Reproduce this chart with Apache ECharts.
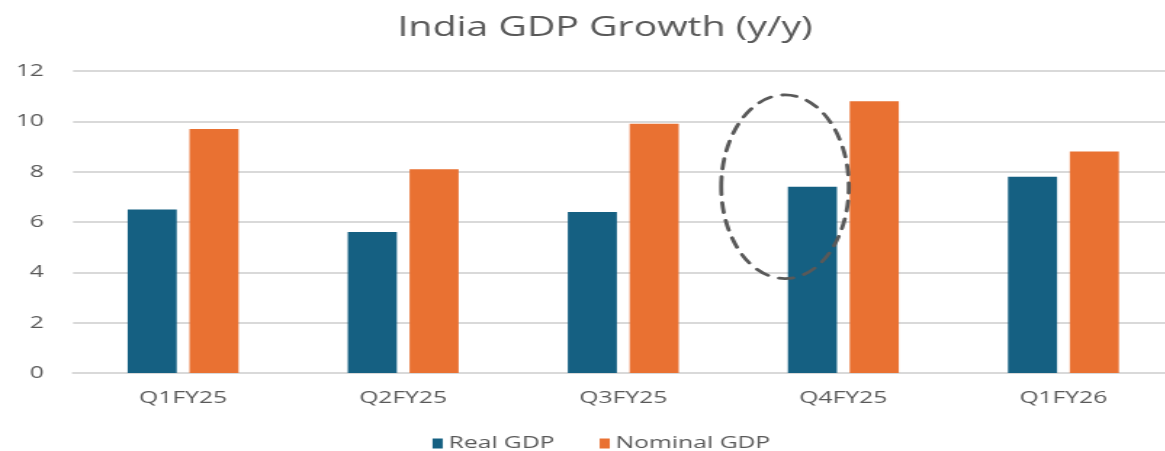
<!DOCTYPE html>
<html>
<head>
<meta charset="utf-8">
<script src="https://cdn.jsdelivr.net/npm/echarts@6/dist/echarts.min.js"></script>
<style>
html,body{margin:0;padding:0;background:#fff;overflow:hidden;}
#wrap{width:1165px;height:451px;overflow:hidden;position:relative;}
#c{height:451px;transform-origin:0 0;position:absolute;left:0;top:0;}
</style>
</head>
<body>
<div id="wrap"><div id="c"></div></div>
<script>
const categories = ['Q1FY25', 'Q2FY25', 'Q3FY25', 'Q4FY25', 'Q1FY26'];
const realGDP = [6.5, 5.6, 6.4, 7.4, 7.8];
const nominalGDP = [9.7, 8.1, 9.9, 10.8, 8.8];
const yTicks = { min: 0, max: 12, interval: 2 };
const highlightIndex = 3;

// the reference picture is horizontally stretched and cropped on the right;
// reproduce by drawing a slightly wider canvas and stretching it
const S = 1.45;
const W = 1180 / S;
const el = document.getElementById('c');
el.style.width = W + 'px';
el.style.transform = 'scaleX(' + S + ')';

const chart = echarts.init(el, null, { renderer: 'canvas', width: W, height: 451 });
const font = '"Open Sans", sans-serif';
chart.setOption({
  animation: false,
  backgroundColor: '#ffffff',
  title: {
    text: 'India GDP Growth (y/y)',
    left: 597 / S,
    textAlign: 'center',
    top: 10,
    textStyle: { fontFamily: font, fontSize: 27, fontWeight: 'normal', color: '#595959' }
  },
  legend: {
    top: 435,
    left: 432 / S,
    padding: 0,
    itemWidth: 7,
    itemHeight: 10,
    itemGap: 31,
    icon: 'rect',
    textStyle: { fontFamily: font, fontSize: 17, color: '#595959', padding: [0, 0, 0, -1] },
    data: ['Real GDP', 'Nominal GDP']
  },
  grid: { left: 73 / S, right: 8 / S, top: 71, bottom: 78 },
  xAxis: {
    type: 'category',
    data: categories,
    axisLine: { lineStyle: { color: '#d9d9d9', width: 2 } },
    axisTick: { show: false },
    axisLabel: { fontFamily: font, fontSize: 17, color: '#595959', margin: 17 }
  },
  yAxis: {
    type: 'value',
    min: yTicks.min,
    max: yTicks.max,
    interval: yTicks.interval,
    axisLine: { show: false },
    axisTick: { show: false },
    axisLabel: { fontFamily: font, fontSize: 17, color: '#595959', margin: 20 },
    splitLine: { lineStyle: { color: '#d9d9d9', width: 2 } }
  },
  series: [
    { name: 'Real GDP', type: 'bar', data: realGDP, barWidth: 49 / S, barGap: '26%', itemStyle: { color: '#156082' } },
    { name: 'Nominal GDP', type: 'bar', data: nominalGDP, barWidth: 49 / S, itemStyle: { color: '#E97132' } }
  ]
});

// dashed ellipse annotation around the Q4FY25 real GDP bar
const p = chart.convertToPixel({ seriesIndex: 0 }, [highlightIndex, realGDP[highlightIndex]]);
const p0 = chart.convertToPixel({ seriesIndex: 0 }, [highlightIndex, 0]);
const catW = chart.convertToPixel({ xAxisIndex: 0 }, categories[1]) - chart.convertToPixel({ xAxisIndex: 0 }, categories[0]);
const unit = (p0[1] - chart.convertToPixel({ yAxisIndex: 0 }, 1));
chart.setOption({
  graphic: [{
    type: 'ellipse',
    shape: { cx: p[0] - catW * 0.265, cy: p[1], rx: catW * 0.29, ry: unit * 3.65 },
    style: { fill: 'none', stroke: '#595959', lineWidth: 2.8, lineDash: [10, 8], lineCap: 'round' },
    z: 100
  }]
});
</script>
</body>
</html>
